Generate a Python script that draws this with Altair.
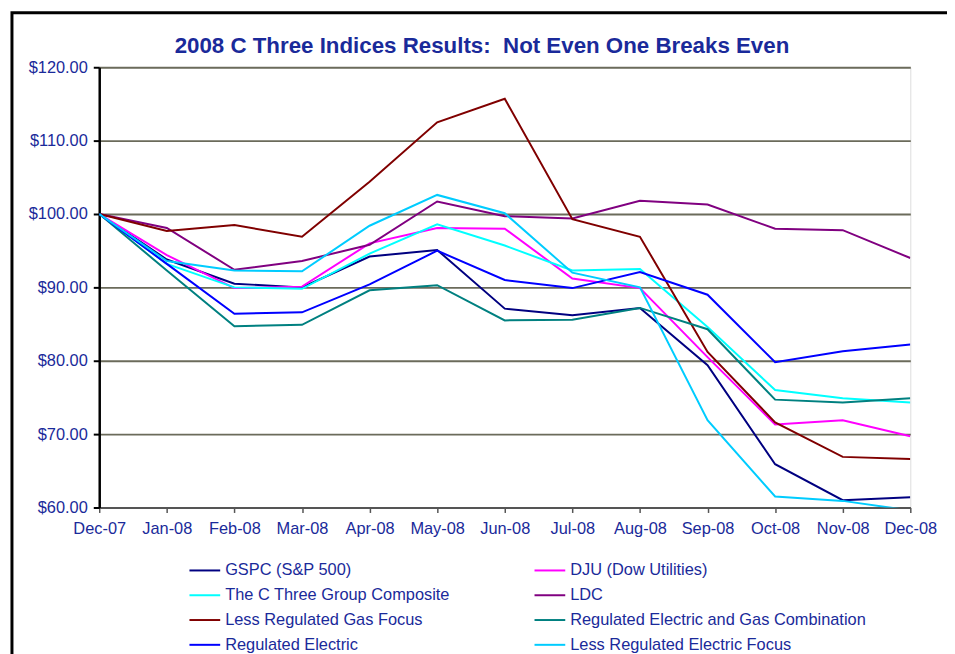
import altair as alt
import pandas as pd

months = ["Dec-07", "Jan-08", "Feb-08", "Mar-08", "Apr-08", "May-08", "Jun-08",
          "Jul-08", "Aug-08", "Sep-08", "Oct-08", "Nov-08", "Dec-08"]

series_names = ["GSPC (S&P 500)", "DJU (Dow Utilities)", "The C Three Group Composite", "LDC",
                "Less Regulated Gas Focus", "Regulated Electric and Gas Combination",
                "Regulated Electric", "Less Regulated Electric Focus"]
series_colors = ["#000080", "#FF00FF", "#00FFFF", "#800080",
                 "#800000", "#008080", "#0000FF", "#00CCFF"]

gspc = [100, 93.8, 90.5, 90.0, 94.2, 95.1, 87.1, 86.2, 87.2, 79.4, 65.9, 61.0, 61.4]
dju = [100, 94.4, 89.9, 90.1, 96.0, 98.1, 98.0, 91.2, 89.9, 80.5, 71.3, 71.9, 69.7]
composite = [100, 93.2, 90.0, 89.8, 94.6, 98.6, 95.7, 92.3, 92.5, 84.6, 76.0, 74.9, 74.3]
ldc = [100, 98.1, 92.4, 93.6, 95.8, 101.7, 99.7, 99.4, 101.8, 101.3, 98.0, 97.8, 94.0]
lrgf = [100, 97.7, 98.5, 96.9, 104.4, 112.5, 115.7, 99.3, 96.9, 81.2, 71.6, 66.9, 66.6]
regc = [100, 92.3, 84.7, 84.9, 89.6, 90.3, 85.5, 85.6, 87.2, 84.3, 74.7, 74.3, 74.9]
reg_elec = [100, 93.2, 86.4, 86.6, 90.4, 95.0, 91.0, 89.9, 92.1, 89.0, 79.8, 81.3, 82.2]
lref = [100, 93.6, 92.3, 92.2, 98.4, 102.6, 100.1, 92.0, 90.0, 71.9, 61.5, 60.9, 59.6]

y_ticks = [60, 70, 80, 90, 100, 110, 120]
title_text = ["2008 C Three Indices Results:\u00a0 Not Even One Breaks Even"]

all_series = [gspc, dju, composite, ldc, lrgf, regc, reg_elec, lref]
rows = []
for name, vals in zip(series_names, all_series):
    for m, v in zip(months, vals):
        rows.append({"month": m, "value": v, "series": name})
df = pd.DataFrame(rows)

TEXT = "#1a2a9a"
FONT = "Liberation Sans"

lines = alt.Chart(df).mark_line(strokeWidth=2, clip=True).encode(
    x=alt.X("month:O", sort=months, scale=alt.Scale(type="point", padding=0),
            axis=alt.Axis(title=None, labelAngle=0, labelFontSize=16.5, labelColor=TEXT,
                          labelFont=FONT, tickSize=5, tickColor="#555555", tickWidth=1.5,
                          domainColor="#555555", domainWidth=2, labelPadding=8, grid=False)),
    y=alt.Y("value:Q", scale=alt.Scale(domain=[60, 120], nice=False, zero=False),
            axis=alt.Axis(title=None, values=y_ticks, format="$,.2f", labelFontSize=16.5,
                          labelColor=TEXT, labelFont=FONT, tickSize=6, tickColor="black",
                          tickWidth=2, domainColor="black", domainWidth=2.5, labelPadding=6,
                          grid=True, gridColor="#6b6b5b", gridWidth=1.8)),
    color=alt.Color("series:N", sort=series_names,
                    scale=alt.Scale(domain=series_names, range=series_colors),
                    legend=alt.Legend(title=None, orient="none", legendX=90, legendY=491,
                                      columns=2, direction="horizontal", symbolType="stroke",
                                      symbolSize=961, symbolStrokeWidth=2, labelOffset=4,
                                      columnPadding=81, rowPadding=0, labelFontSize=16.5,
                                      labelColor=TEXT, labelFont=FONT, padding=0,
                                      labelLimit=400)),
)

frame = alt.Chart(pd.DataFrame({"a": [0]})).mark_rect(
    fill=None, stroke="black", strokeWidth=3, clip=False
).encode(
    x=alt.value(-88), x2=alt.value(860), y=alt.value(-55), y2=alt.value(620)
)

title = alt.Chart(pd.DataFrame({"t": title_text})).mark_text(
    fontSize=22.5, fontWeight="bold", color=TEXT, font=FONT, align="center",
    baseline="alphabetic", clip=False
).encode(text="t:N", x=alt.value(386), y=alt.value(-14))

chart = alt.layer(frame, lines, title).properties(
    width=818, height=444,
    autosize=alt.AutoSizeParams(type="none"),
    padding={"left": 92, "top": 57, "right": 37, "bottom": 145},
).configure_view(
    fill="#FFFAA5", stroke="#a0a0a0", strokeWidth=2
).configure(background="white")

chart.save("out.html", embed_options={"renderer": "svg", "actions": False})
